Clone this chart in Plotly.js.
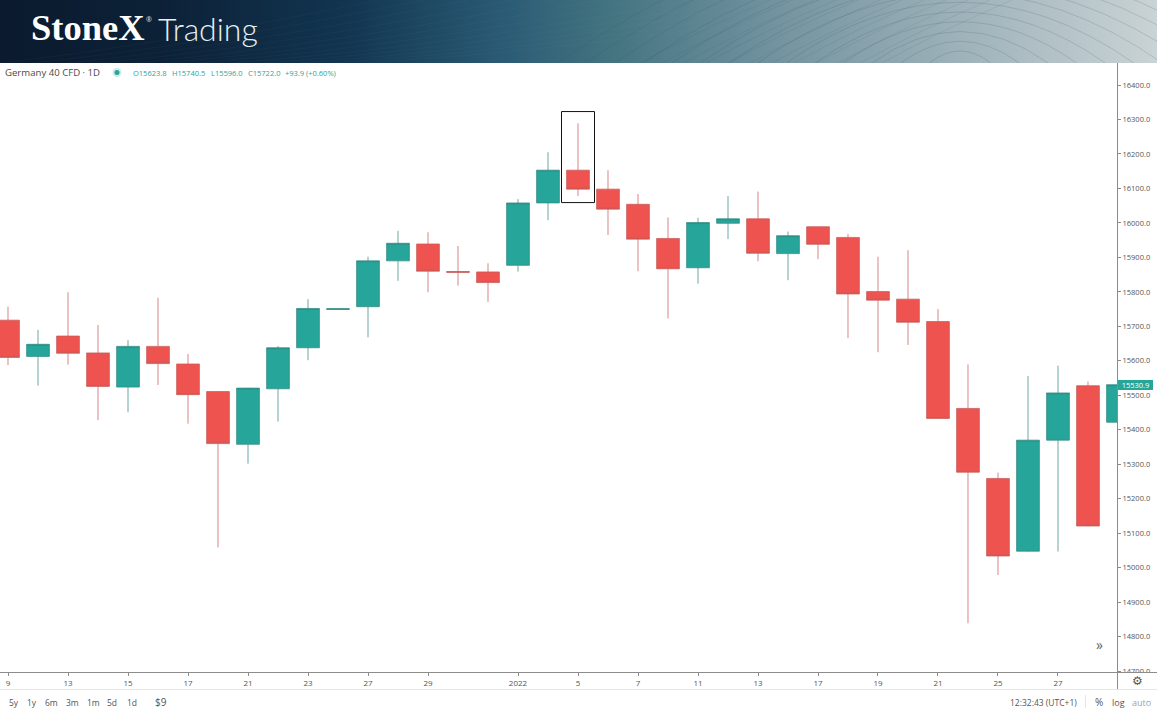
<!DOCTYPE html>
<html><head><meta charset="utf-8">
<script src="https://cdn.plot.ly/plotly-3.0.1.min.js"></script>
<style>
html,body{margin:0;padding:0;background:#fff;overflow:hidden}
#banner{position:absolute;left:0;top:0;width:1157px;height:63px;z-index:0;
background:linear-gradient(90deg,#0b1a2e 0%,#0c2137 14%,#123550 30%,#2b5c76 44%,#41727f 52%,#6f919e 66%,#9bb0b8 82%,#cad3d5 100%)}
#chart{position:absolute;left:0;top:0;width:1157px;height:720px;z-index:1}
</style></head><body>
<div id="banner"><svg id="curves" width="1157" height="63"></svg></div>
<div id="chart"></div>
<script>
// Daily candles
const sessions = [0,1,2,3,4,5,6,7,8,9,10,11,12,13,14,15,16,17,18,19,20,21,22,23,24,25,26,27,28,29,30,31,32,33,34,35,36,37];
const opens  = [15718,15613,15672,15623,15524,15642,15591,15511,15358,15519,15638,15749,15757,15890,15939,15859,15858,15877,16058,16153,16098,16054,15955,15870,15999,16012,15911,15989,15958,15801,15779,15714,15462,15259,15048,15370,15528,15422];
const highs  = [15757,15690,15799,15704,15660,15783,15620,15512,15522,15643,15779,15752,15902,15977,15973,15933,15883,16069,16205,16289,16153,16084,16016,16015,16078,16091,15975,15990,15968,15902,15921,15750,15590,15276,15556,15586,15540,15532];
const lows   = [15588,15528,15589,15428,15451,15530,15418,15059,15302,15424,15602,15748,15668,15832,15799,15818,15771,15859,16008,16078,15965,15860,15723,15824,15953,15889,15834,15895,15666,15625,15646,15432,14839,14979,15047,15047,15120,15421];
const closes = [15610,15648,15622,15526,15642,15592,15502,15360,15521,15638,15752,15751,15890,15941,15860,15857,15827,16058,16153,16098,16040,15953,15867,16001,16012,15912,15963,15938,15794,15776,15712,15433,15277,15034,15370,15507,15121,15530.9];

const xTickSessions = [0,2,4,6,8,10,12,14,17,19,21,23,25,27,29,31,33,35];
const xTickLabels = ['9','13','15','17','21','23','27','29','2022','5','7','11','13','17','19','21','25','27'];

const rangeButtons = ['5y','1y','6m','3m','1m','5d','1d'];
const rangeButtonX = [14,32,51,72,93,112,132];
const ohlcLabels = ['O15623.8','H15740.5','L15596.0','C15722.0','+93.9 (+0.60%)'];
const ohlcLabelX = [133,172,211,248,285];

const highlightedSession = 19;
const lastPrice = 15530.9;

const TEAL='#26a69a', RED='#ef5350';
const W=1117, H=609, TOP=63;
const px = x => x/W;
const py = y => (TOP+H-y)/H;
const FONT='"Open Sans", "Noto Sans", sans-serif';

function label(text,x,y,size,color,anchor,extra){
  return Object.assign({text:text,xref:'paper',yref:'paper',x:px(x),y:py(y),showarrow:false,
    xanchor:anchor||'left',yanchor:'middle',borderpad:0,borderwidth:0,
    font:{family:FONT,size:size,color:color}},extra||{});
}

const annotations=[
  label('StoneX',31,28,36.5,'#ffffff','left',{font:{family:'"Liberation Serif",serif',size:36.5,color:'#ffffff',weight:700}}),
  label('®',146,20,7,'#dfe7ea','left'),
  label('Trading',158,28.5,32,'#e9eff1','left',{font:{family:'Lato, "Open Sans", sans-serif',size:32,color:'#e9eff1',weight:300}}),
  label('Germany 40 CFD · 1D',5,72.5,9.6,'#4a4a4a'),
  label('»',1099,644,14,'#666666','center'),
  label('12:32:43 (UTC+1)',1043,702,8.5,'#555555','center'),
  label('%',1099,702,10,'#555555','center'),
  label('log',1118,702,9,'#555555','center'),
  label('auto',1141,702,9,'#9aa5a8','center'),
  label('$9',161,702,10,'#555555','center'),
  label('⚙',1137,681,12,'#555555','center',{font:{family:'"DejaVu Sans"',size:12,color:'#555555'}}),
  {text:lastPrice.toFixed(1),xref:'paper',yref:'y',x:px(1118),y:lastPrice,showarrow:false,xanchor:'left',yanchor:'middle',
   width:35,height:10,bgcolor:TEAL,borderpad:0,borderwidth:0,align:'center',font:{family:FONT,size:7.5,color:'#ffffff'}}
];
rangeButtons.forEach((t,i)=>annotations.push(label(t,rangeButtonX[i],702,8.5,'#555555','center')));
ohlcLabels.forEach((t,i)=>annotations.push(label(t,ohlcLabelX[i],72.5,7.5,TEAL,'left')));

const shapes=[
  {type:'rect',xref:'x',yref:'y',x0:highlightedSession-0.55,x1:highlightedSession+0.55,y0:16059,y1:16323,line:{color:'#111111',width:1},fillcolor:'rgba(0,0,0,0)',layer:'above'},
  // status dot
  {type:'circle',xref:'paper',yref:'paper',x0:px(112.5),x1:px(121.5),y0:py(77),y1:py(68),line:{width:0},fillcolor:'rgba(38,166,154,0.22)'},
  {type:'circle',xref:'paper',yref:'paper',x0:px(114.5),x1:px(119.5),y0:py(75),y1:py(70),line:{width:0},fillcolor:TEAL},
  // corner cell over the clipped lowest price label
  {type:'rect',xref:'paper',yref:'paper',x0:px(1118),x1:px(1157),y0:py(689),y1:py(672.5),line:{width:0},fillcolor:'#ffffff',layer:'above'},
  {type:'line',xref:'paper',yref:'paper',x0:px(1117),x1:px(1157),y0:py(672.5),y1:py(672.5),line:{color:'#8c8c8c',width:1},layer:'above'},
  {type:'line',xref:'paper',yref:'paper',x0:px(1117.5),x1:px(1117.5),y0:py(689),y1:py(672),line:{color:'#8c8c8c',width:1},layer:'above'},
  {type:'line',xref:'paper',yref:'paper',x0:0,x1:px(1157),y0:py(689.5),y1:py(689.5),line:{color:'#e4e6e8',width:1},layer:'above'},
  {type:'line',xref:'paper',yref:'paper',x0:px(1085.5),x1:px(1085.5),y0:py(708),y1:py(695),line:{color:'#e4e6e8',width:1},layer:'above'}
];

const trace={type:'candlestick',x:sessions,open:opens,high:highs,low:lows,close:closes,whiskerwidth:0,
  increasing:{line:{color:'rgba(50,135,128,0.72)',width:1},fillcolor:TEAL},
  decreasing:{line:{color:'rgba(195,90,88,0.72)',width:1},fillcolor:RED},hoverinfo:'skip'};

const layout={width:1157,height:720,margin:{l:0,r:40,t:63,b:48,pad:0},
  paper_bgcolor:'rgba(0,0,0,0)',plot_bgcolor:'#ffffff',showlegend:false,boxmode:'group',boxgap:0.24,boxgroupgap:0,dragmode:false,hovermode:false,
  xaxis:{type:'linear',range:[-0.267,36.967],rangeslider:{visible:false},tickmode:'array',tickvals:xTickSessions,ticktext:xTickLabels,
    showgrid:false,zeroline:false,showline:true,linecolor:'#8c8c8c',linewidth:1,ticks:'outside',ticklen:3,tickcolor:'#8c8c8c',tickwidth:1,
    tickfont:{family:FONT,size:8,color:'#555555'}},
  yaxis:{side:'right',range:[14697.7,16463.8],tick0:14000,dtick:100,tickformat:'.1f',showgrid:false,zeroline:false,showline:true,
    linecolor:'#8c8c8c',linewidth:1,ticks:'outside',ticklen:3,tickcolor:'#8c8c8c',tickwidth:1,tickfont:{family:FONT,size:7.5,color:'#555555'}},
  shapes:shapes,annotations:annotations};

Plotly.newPlot('chart',[trace],layout,{displayModeBar:false,staticPlot:true});

// banner contour decoration
const svg=document.getElementById('curves');let d='';
for(let i=0;i<14;i++){const r=14+i*13;
  d+=`<path d="M${960-r*2.2} 63 Q960 ${60-r*1.5} ${960+r*2.2} 63" fill="none" stroke="rgba(70,85,100,0.28)" stroke-width="0.7"/>`;}
for(let i=0;i<12;i++){const o=i*22;
  d+=`<path d="M${640+o} 63 Q${700+o} 30 ${770+o} 0" fill="none" stroke="rgba(60,80,95,0.16)" stroke-width="0.7"/>`;
  d+=`<path d="M${0+o*1.5} 63 Q${160+o*2} 45 ${380+o*2} 0" fill="none" stroke="rgba(150,180,200,0.07)" stroke-width="0.7"/>`;}
svg.innerHTML=d;
</script>
</body></html>
